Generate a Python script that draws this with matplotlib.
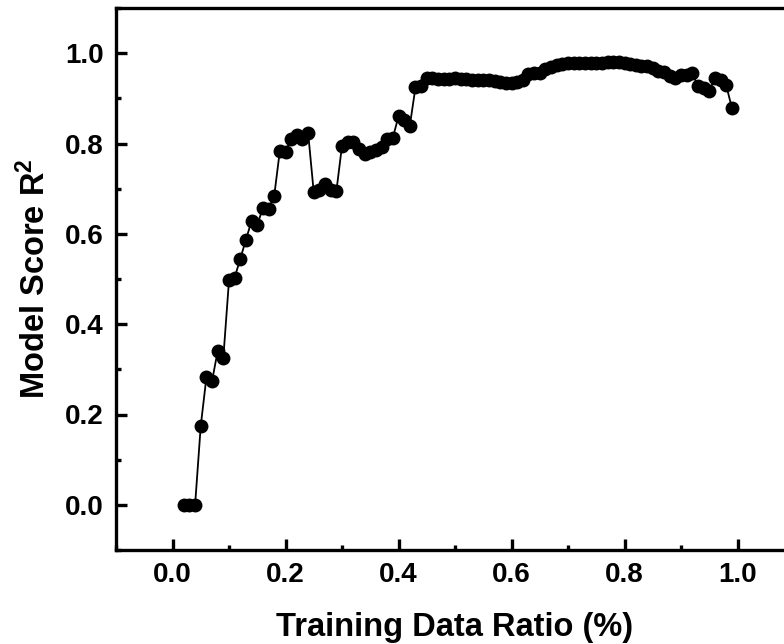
import matplotlib
matplotlib.use("Agg")
import matplotlib.pyplot as plt
from matplotlib.ticker import MultipleLocator

plt.rcParams['font.family'] = ['Liberation Sans', 'DejaVu Sans']
plt.rcParams['font.weight'] = 'bold'
plt.rcParams['mathtext.fontset'] = 'custom'
plt.rcParams['mathtext.rm'] = 'Liberation Sans:bold'
plt.rcParams['mathtext.bf'] = 'Liberation Sans:bold'
plt.rcParams['mathtext.it'] = 'Liberation Sans:bold'

ratio = [0.02, 0.03, 0.04, 0.05, 0.06, 0.07, 0.08, 0.09, 0.10, 0.11,
         0.12, 0.13, 0.14, 0.15, 0.16, 0.17, 0.18, 0.19, 0.20, 0.21,
         0.22, 0.23, 0.24, 0.25, 0.26, 0.27, 0.28, 0.29, 0.30, 0.31,
         0.32, 0.33, 0.34, 0.35, 0.36, 0.37, 0.38, 0.39, 0.40, 0.41,
         0.42, 0.43, 0.44, 0.45, 0.46, 0.47, 0.48, 0.49, 0.50, 0.51,
         0.52, 0.53, 0.54, 0.55, 0.56, 0.57, 0.58, 0.59, 0.60, 0.61,
         0.62, 0.63, 0.64, 0.65, 0.66, 0.67, 0.68, 0.69, 0.70, 0.71,
         0.72, 0.73, 0.74, 0.75, 0.76, 0.77, 0.78, 0.79, 0.80, 0.81,
         0.82, 0.83, 0.84, 0.85, 0.86, 0.87, 0.88, 0.89, 0.90, 0.91,
         0.92, 0.93, 0.94, 0.95, 0.96, 0.97, 0.98, 0.99]

score = [0.000, 0.000, 0.000, 0.175, 0.282, 0.274, 0.341, 0.326, 0.497, 0.503,
         0.545, 0.587, 0.629, 0.620, 0.657, 0.655, 0.684, 0.784, 0.782, 0.810,
         0.818, 0.810, 0.824, 0.692, 0.696, 0.710, 0.698, 0.694, 0.795, 0.803,
         0.803, 0.787, 0.777, 0.782, 0.786, 0.793, 0.809, 0.813, 0.860, 0.851,
         0.839, 0.924, 0.927, 0.944, 0.944, 0.943, 0.943, 0.943, 0.944, 0.943,
         0.942, 0.941, 0.940, 0.941, 0.940, 0.938, 0.936, 0.935, 0.935, 0.937,
         0.940, 0.953, 0.955, 0.957, 0.964, 0.969, 0.973, 0.976, 0.978, 0.978,
         0.978, 0.979, 0.979, 0.979, 0.979, 0.980, 0.980, 0.981, 0.979, 0.976,
         0.973, 0.972, 0.971, 0.968, 0.961, 0.958, 0.949, 0.945, 0.952, 0.951,
         0.955, 0.927, 0.922, 0.917, 0.944, 0.940, 0.929, 0.879]

x_ticks = [0.0, 0.2, 0.4, 0.6, 0.8, 1.0]
y_ticks = [0.0, 0.2, 0.4, 0.6, 0.8, 1.0]

fig = plt.figure(figsize=(7.84, 6.44), dpi=100)
ax = fig.add_axes([116 / 784, 94 / 644, (794 - 116) / 784, (550 - 8) / 644])

ax.plot(ratio, score, color='black', linewidth=1.3, marker='o',
        markersize=9, markerfacecolor='black', markeredgecolor='black',
        clip_on=False)

ax.set_xlim(-0.1, 1.1)
ax.set_ylim(-0.1, 1.1)
ax.set_xticks(x_ticks)
ax.set_yticks(y_ticks)
ax.set_xticklabels([f"{v:.1f}" for v in x_ticks])
ax.set_yticklabels([f"{v:.1f}" for v in y_ticks])
ax.xaxis.set_minor_locator(MultipleLocator(0.1))
ax.yaxis.set_minor_locator(MultipleLocator(0.1))

for s in ax.spines.values():
    s.set_linewidth(2.4)

ax.tick_params(which='major', direction='in', length=7.7, width=2.4,
               labelsize=20, pad=9)
ax.tick_params(which='minor', direction='in', length=3.8, width=2.4)
ax.tick_params(top=False, right=False, which='both')
for lab in ax.get_xticklabels() + ax.get_yticklabels():
    lab.set_fontweight('bold')

ax.set_xlabel('Training Data Ratio (%)', fontsize=23.5, fontweight='bold',
              labelpad=17)
ax.set_ylabel('Model Score R$^{2}$', fontsize=23.5, fontweight='bold',
              labelpad=9)

fig.savefig('out.png', dpi=100)
